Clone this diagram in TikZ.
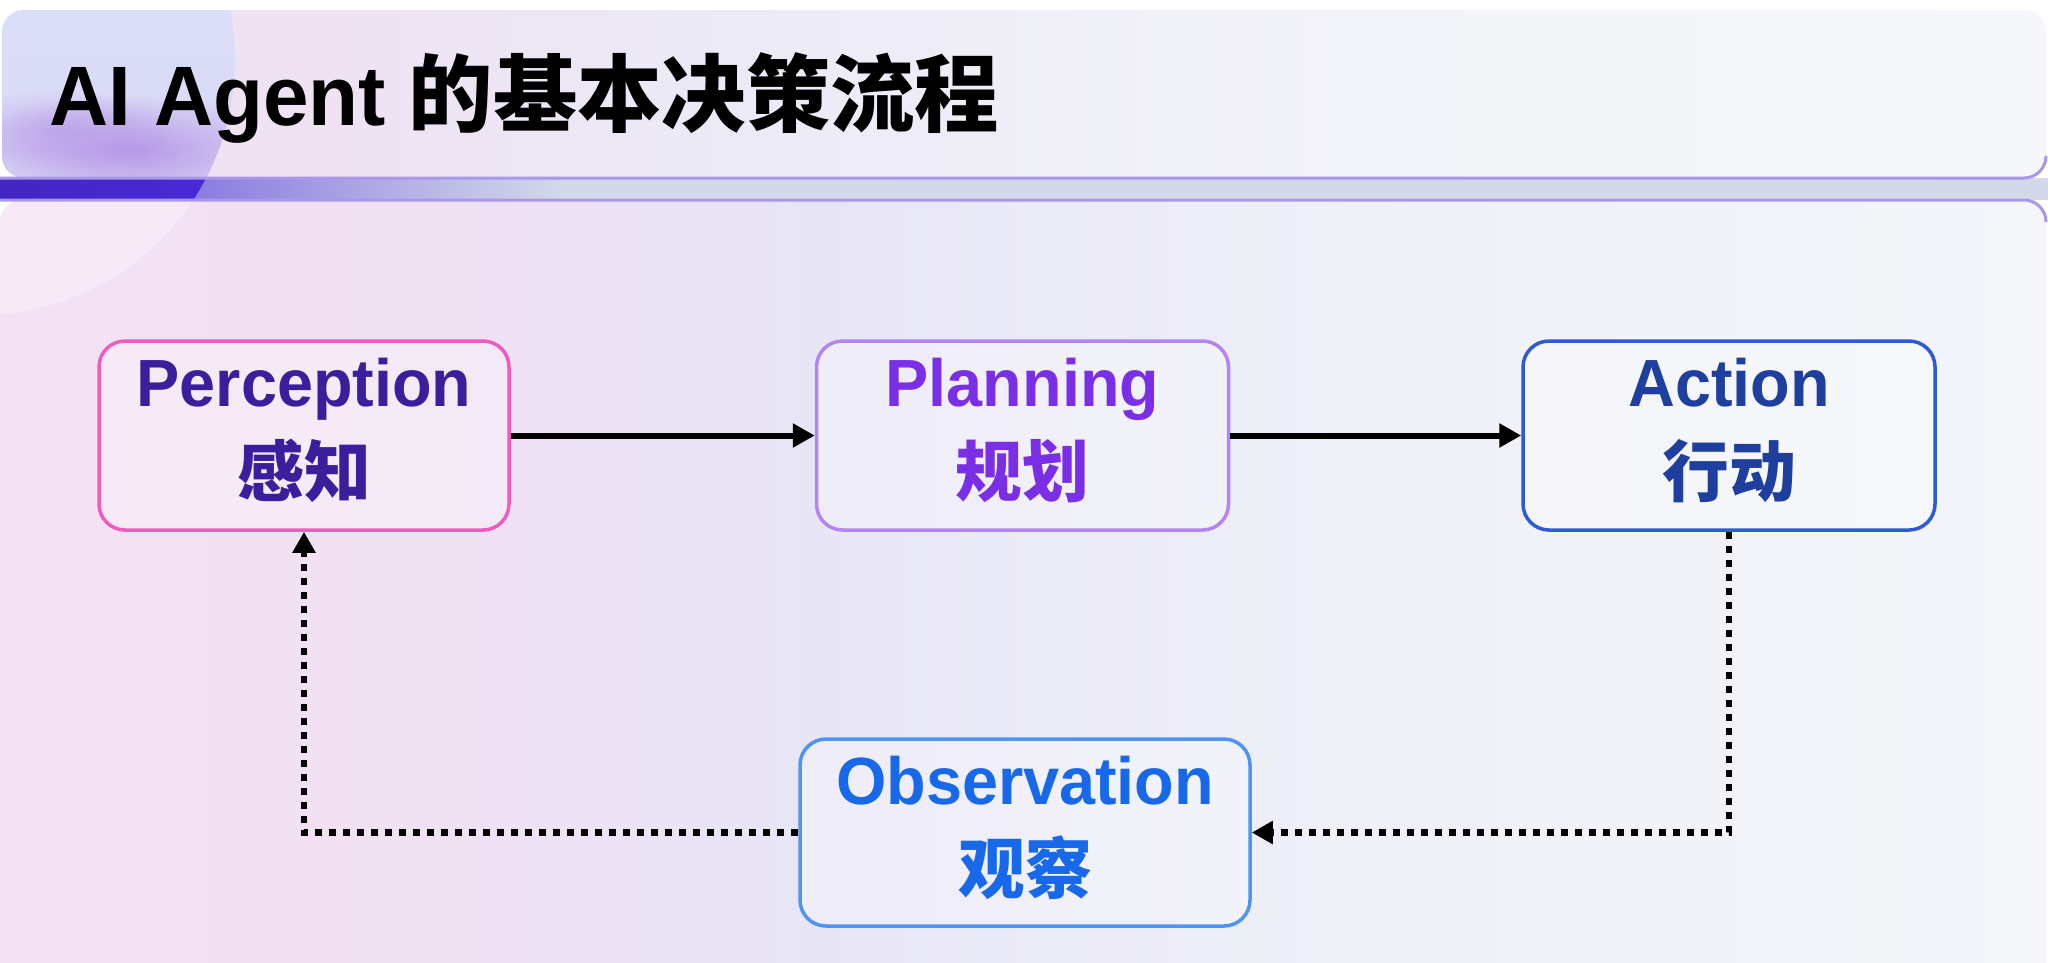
\documentclass[tikz,border=0pt]{standalone}
\usepackage{fontspec}
\setmainfont{Liberation Sans}[FakeStretch=0.97]
\newfontfamily\cjk{Noto Sans CJK SC}
\usetikzlibrary{arrows.meta,fadings,calc}
\tikzfading[name=blobfade, inner color=transparent!0, outer color=transparent!100]
\definecolor{bgA}{HTML}{F4E2F3}
\definecolor{bgB}{HTML}{F0E1F3}
\definecolor{bgC}{HTML}{E8E6F6}
\definecolor{bgD}{HTML}{F0F1F8}
\definecolor{bgE}{HTML}{F5F6FA}
\definecolor{tA}{HTML}{F2E2F2}
\definecolor{tB}{HTML}{EEE2F3}
\definecolor{tC}{HTML}{ECEAF6}
\definecolor{tD}{HTML}{F3F4F9}
\definecolor{tE}{HTML}{F6F7FA}
\definecolor{bandc}{HTML}{D3D8EA}
\definecolor{bandline}{HTML}{A898E8}
\definecolor{indigoc}{HTML}{4A2AD8}
\definecolor{blobc}{HTML}{B898E8}
\definecolor{circA}{HTML}{DFE8FB}
\definecolor{circB}{HTML}{D8D6F5}
\definecolor{pPer}{HTML}{F25BBE}
\definecolor{tPer}{HTML}{3A1E9C}
\definecolor{pPla}{HTML}{B384F2}
\definecolor{tPla}{HTML}{7A2FE6}
\definecolor{pAct}{HTML}{2D5BD6}
\definecolor{tAct}{HTML}{1E3F9E}
\definecolor{pObs}{HTML}{4F94F2}
\definecolor{tObs}{HTML}{1769EA}
\pgfdeclarehorizontalshading{mainbg}{100bp}{color(0bp)=(bgA); color(25bp)=(bgA); color(35bp)=(bgB); color(45bp)=(bgC); color(60bp)=(bgD); color(75bp)=(bgE); color(100bp)=(bgE)}
\pgfdeclarehorizontalshading{titlebg}{100bp}{color(0bp)=(tA); color(25bp)=(tA); color(33bp)=(tB); color(43bp)=(tC); color(58bp)=(tD); color(75bp)=(tE); color(100bp)=(tE)}
\tikzset{
  stepbox/.style={draw, line width=0.35mm, rounded corners=2.6mm, fill=white, fill opacity=0.3, text opacity=1,
    minimum height=18.9mm, align=center, font=\fontsize{19}{25.5}\selectfont\bfseries, inner sep=0pt, text depth=4.5pt},
  flowarrow/.style={line width=0.6mm, black, -{Triangle[length=2.2mm,width=2.3mm]}},
  backarrow/.style={line width=0.65mm, black, dash pattern=on 0.7mm off 0.7mm, -{Triangle[length=2.1mm,width=2.2mm]}}
}
\begin{document}
\begin{tikzpicture}[x=0.1mm,y=-0.1mm]
\useasboundingbox (0,0) rectangle (2048,962);
\fill[white] (0,0) rectangle (2048,962);
% main panel
\shade[shading=mainbg] (0,1000) [rounded corners=2.2mm] -- (0,200) -- (2046,200) -- (2046,1000) [sharp corners] -- cycle;
% title panel
\shade[shading=titlebg, rounded corners=2.2mm] (2,10) rectangle (2046,178);
% band
\fill[bandc] (0,178) rectangle (2048,200);
\shade[left color=indigoc!55!bandc, right color=bandc] (180,179) rectangle (560,199);
% decorative circle
\begin{scope}
  \clip[rounded corners=2.2mm] (2,10) rectangle (2046,178);
  \clip (-20,60) circle (255);
  \shade[top color=circA, bottom color=circB] (-300,-200) rectangle (300,200);
  \fill[blobc, path fading=blobfade] (130,150) ellipse (170 and 55);
  \fill[blobc, opacity=0.6, path fading=blobfade] (60,130) ellipse (110 and 40);
\end{scope}
\begin{scope}
  \clip (0,178) rectangle (2048,200);
  \clip (-20,60) circle (255);
  \shade[left color=indigoc!90!black, right color=indigoc] (0,170) rectangle (240,210);
\end{scope}
\begin{scope}
  \clip (0,200) rectangle (2048,962);
  \fill[white, opacity=0.28] (-20,60) circle (255);
\end{scope}
% separator lines
\draw[bandline, line width=0.3mm] (0,178) -- (2024,178) arc[start angle=90, end angle=0, radius=22];
\draw[bandline, line width=0.3mm] (0,200) -- (2024,200) arc[start angle=-90, end angle=0, radius=22];
% title
\node[anchor=base west, inner sep=0pt, font=\fontsize{24}{28}\selectfont\bfseries] (title) at (49,125) {AI Agent {\cjk 的基本决策流程}};
% boxes
\node[stepbox, draw=pPer, text=tPer, minimum width=41mm] (per) at (304,435.5) {Perception\\{\cjk 感知}};
\node[stepbox, draw=pPla, text=tPla, minimum width=41.2mm] (pla) at (1022.5,435.5) {Planning\\{\cjk 规划}};
\node[stepbox, draw=pAct, text=tAct, minimum width=41.2mm] (act) at (1729,435.5) {Action\\{\cjk 行动}};
\node[stepbox, draw=pObs, text=tObs, minimum width=45mm, minimum height=18.7mm] (obs) at (1025,832.5) {Observation\\{\cjk 观察}};
% connectors
\draw[flowarrow] (per.east) -- (pla.west);
\draw[flowarrow] (pla.east) -- (act.west);
\draw[backarrow] (act.south) |- (obs.east);
\draw[backarrow] (obs.west) -| (per.south);
\end{tikzpicture}
\end{document}
